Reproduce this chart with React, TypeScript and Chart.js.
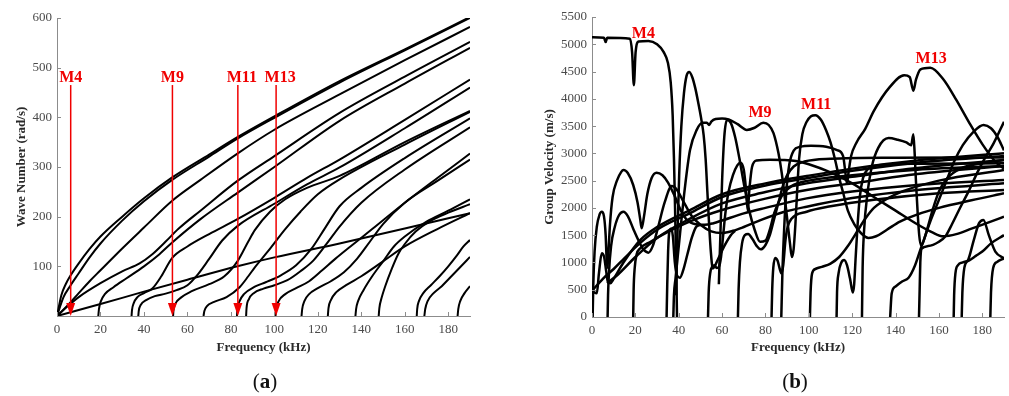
import React, { useEffect, useRef } from "react";
import { Chart, registerables } from "chart.js";
Chart.register(...registerables);

type Pt = [number, number];

// ---------- (a) wave number vs frequency ----------
const wn01: Pt[] = [[0,0],[2,42],[4,64],[6,80],[10,106],[15,135],[20,160],[30,200],[40,237],[53,279],[70,325],[83,360],[100,402],[130,473],[160,537],[190,602]];
const wn02: Pt[] = [[0,0],[3,38],[6,60],[10,86],[15,118],[20,146],[30,192],[40,231],[53,274],[70,321],[83,357],[100,399],[130,470],[160,535],[190,600]];
const wn03: Pt[] = [[0,0],[5,22],[10,46],[15,70],[20,92],[30,136],[40,178],[53,232],[66,274],[83,327],[100,375],[130,446],[160,515],[190,582]];
const wn04: Pt[] = [[0,0],[5,20],[10,38],[20,66],[30,90],[38,106],[44,125],[50,150],[56,176],[66,212],[83,272],[100,322],[130,409],[160,482],[190,552]];
const wn05: Pt[] = [[19,0],[19.3,14],[20.2,30],[22,44],[26,58],[32,76],[40,100],[47,124],[53,148],[66,195],[83,248],[100,300],[130,393],[160,468],[190,540]];
const wn06: Pt[] = [[0,0],[20,24],[40,49],[60,73],[83,100],[100,118],[130,146],[160,176],[190,207]];
const wn07: Pt[] = [[34.3,0],[34.5,12],[35.3,26],[37,38],[40,46],[44,56],[48,80],[53,117],[60,140],[70,165],[83,195],[100,238],[115,278],[130,315],[160,395],[190,476]];
const wn08: Pt[] = [[37.4,0],[37.6,10],[38.5,22],[41,32],[45,40],[50,45],[55,52],[60,62],[65,85],[70,115],[76,152],[83,181],[100,226],[115,265],[130,299],[160,378],[190,460]];
const wn09: Pt[] = [[53.4,0],[53.6,12],[54.5,25],[57,37],[62,50],[70,64],[77,80],[83,110],[88,150],[91,173],[98,210],[105,235],[115,258],[130,282],[160,350],[190,413]];
const wn10: Pt[] = [[67.4,0],[67.8,10],[69,20],[72,28],[78,38],[84,58],[88,80],[91,98],[97,130],[105,175],[112,210],[120,245],[130,275],[160,345],[190,411]];
const wn11: Pt[] = [[82.8,0],[83,14],[84,30],[86,44],[91,59],[96,68],[103,82],[110,102],[117,135],[123,175],[130,221],[140,258],[160,318],[190,398]];
const wn12: Pt[] = [[87,0],[87.2,16],[88.3,34],[90.5,46],[95,55],[100,62],[106,72],[112,90],[118,112],[124,145],[130,180],[140,228],[160,295],[190,380]];
const wn13: Pt[] = [[100.5,0],[100.8,14],[102,30],[105,44],[110,56],[116,70],[122,92],[128,115],[135,140],[145,175],[160,228],[175,278],[190,327]];
const wn14: Pt[] = [[112.5,0],[112.8,14],[113.8,30],[116,44],[120,56],[126,70],[132,88],[138,115],[144,150],[150,185],[160,228],[175,272],[190,315]];
const wn15: Pt[] = [[124.6,0],[124.9,16],[126,32],[128.5,48],[133,62],[140,80],[150,110],[160,140],[175,175],[190,207]];
const wn16: Pt[] = [[137.3,0],[137.6,14],[138.5,30],[141,52],[145,80],[150,110],[155,140],[160,160],[170,190],[180,212],[190,235]];
const wn17: Pt[] = [[148,0],[148.3,16],[149.3,36],[151,60],[154,95],[157,125],[160,145],[165,170],[172,192],[180,208],[190,225]];
const wn18: Pt[] = [[165.5,0],[165.7,14],[166.5,30],[168.5,46],[172,62],[176,80],[180,100],[184,122],[187,140],[190,153]];
const wn19: Pt[] = [[169,0],[169.4,14],[170.5,30],[173,45],[177,60],[181,78],[185,96],[190,119]];
const wn20: Pt[] = [[184.3,0],[184.6,14],[185.5,30],[187.5,46],[190,60]];
const waveNumberCurves = [wn01,wn02,wn03,wn04,wn05,wn06,wn07,wn08,wn09,wn10,wn11,wn12,wn13,wn14,wn15,wn16,wn17,wn18,wn19,wn20];

// ---------- (b) group velocity vs frequency ----------
const gv01: Pt[] = [[0,5130],[5.5,5120],[6.3,5040],[7,5120],[17.5,5100],[18.5,4850],[19.3,4250],[20.1,4850],[21.5,5050],[26,5060],[30,5000],[33,4860],[35,4660],[36.3,4300],[37.2,3700],[37.8,2900],[38.3,2000],[38.7,1200],[39,500],[39.2,0]];
const gv02: Pt[] = [[38.8,400],[39.4,1500],[40.2,2600],[41.2,3500],[42.4,4100],[43.6,4420],[44.8,4490],[46.2,4400],[47.6,4200],[49,3930],[50.3,3650],[51.5,3330],[52.4,2900],[53.2,2300],[54,1700],[54.8,1200],[55.7,890],[58,1050],[61,1300],[64,1500],[66,1580]];
const gv03: Pt[] = [[37.5,0],[37.8,400],[38.5,700],[39.5,1100],[40.6,1530],[42.9,2390],[45.2,3060],[48.3,3430],[51,3560],[53,3560],[54,3520],[55,3580],[57,3630],[60,3640],[63,3620],[67,3540],[71.4,3430],[75,3470],[79,3560],[81.5,3520],[83.7,3370],[86,3000],[87.5,2640],[89,2150],[90.3,1700],[91.3,1350],[92.2,1100],[93,1250],[93.8,1700],[94.6,2300],[95.5,2900],[97,3350],[99,3580],[101,3680],[103,3700],[105.5,3620],[108,3420],[110,3200],[112,2900],[114,2550],[116,2250],[118,1950],[121,1700],[124,1540],[127.5,1450],[131,1480],[136,1600],[142,1750],[150,1880],[160,2000],[175,2140],[190,2267]];
const gv04: Pt[] = [[58.5,600],[59.2,1500],[60,2500],[61,3300],[62.2,3610],[64,3560],[66,3300],[68,2900],[70,2450],[72.5,1950],[75,1600],[77.5,1380],[80,1400],[82,1600],[84,1900],[86,2100],[88,2250],[92,2400],[100,2500],[120,2600],[150,2700],[190,2768]];
const gv05: Pt[] = [[53.5,0],[53.8,450],[54.5,800],[55.5,930],[56.5,950],[57.5,900],[58.5,920],[59.5,1100],[60.5,1500],[61.5,1900],[63,2300],[65,2600],[67,2780],[68.5,2830],[70,2700],[71,2350],[71.8,1950],[72.6,2350],[73.8,2750],[76,2870],[82,2885],[88,2880],[94,2860],[100,2800],[110,2650],[120,2450],[130,2200],[140,1950],[150,1700],[157,1550],[162,1480],[168,1520],[175,1620],[182,1720],[190,1839]];
const gv06: Pt[] = [[87.3,0],[87.8,800],[88.6,1600],[89.6,2300],[91,2800],[93,3050],[96,3120],[101,3140],[108,3120],[113,3060],[115.8,2950],[117,2600],[117.6,2450],[118.3,2650],[119.5,2950],[122,3200],[126,3450],[130,3780],[137,4200],[144,4430],[146.5,4400],[148.2,4150],[149.4,4350],[151.5,4540],[156,4570],[162,4360],[168,3980],[174,3560],[180,3170],[186,2850],[190,2720]];
const gv07: Pt[] = [[124.5,0],[124.8,900],[125.5,1600],[127,2250],[129,2750],[132,3100],[136.8,3280],[141,3250],[145,3200],[147.2,3150],[148.2,3350],[148.8,3000],[149.5,2400],[150.2,1900],[150.9,1500],[151.6,1320],[152.5,1350],[154.5,1600],[157,1950],[160,2300],[164,2550],[170,2720],[180,2820],[190,2878]];
const gv08: Pt[] = [[7.2,0],[7.4,400],[7.8,800],[8.8,1300],[10.5,1650],[12.5,1870],[14.5,1930],[16.5,1850],[19,1620],[21.5,1400],[23.5,1250],[26,1180],[28,1300],[30.5,1650],[33.5,2100],[36.8,2400],[39,2340],[42,2130],[46,1850],[50,1690],[55,1570],[60,1540],[65,1580],[70,1650],[78,1780],[88,1920],[99,2022],[120,2180],[150,2330],[190,2450]];
const gv09: Pt[] = [[0.3,0],[0.6,600],[1.2,1200],[2.2,1650],[3.5,1880],[4.5,1930],[5.5,1850],[6.3,1500],[6.7,1100],[7.1,900],[7.6,1200],[8.3,1700],[9.5,2200],[11.5,2500],[13.5,2660],[14.5,2695],[16.5,2640],[19,2420],[21,2100],[22.2,1800],[22.9,1625],[24,1850],[25.5,2250],[27.5,2550],[29.8,2646],[32.5,2600],[35,2470],[38,2230],[41,1950],[44,1770],[48,1700],[52,1690],[56,1720],[60,1770],[70,1900],[80,2000],[99,2175],[120,2300],[150,2420],[190,2511]];
const gv10: Pt[] = [[0,480],[1,450],[2.2,434],[3.2,800],[4.5,1170],[5.6,1100],[6.5,850],[7.3,650],[8.5,620],[10,700],[14.5,1000],[22.2,1411],[30,1650],[45.2,1961],[60,2250],[80,2450],[99,2584],[120,2720],[150,2870],[190,3000]];
const gv11: Pt[] = [[0,480],[5,700],[10,880],[15,1080],[22,1350],[30,1600],[45,1900],[60,2200],[80,2410],[99,2542],[120,2680],[150,2830],[190,2950]];
const gv12: Pt[] = [[7,620],[12,780],[20,1100],[30,1450],[45,1800],[60,2083],[80,2290],[99,2450],[120,2570],[150,2730],[190,2878]];
const gv13: Pt[] = [[19,0],[19.2,500],[19.7,900],[20.6,1150],[22,1250],[27,1380],[35,1560],[45,1750],[60,1961],[80,2170],[99,2328],[120,2450],[150,2620],[190,2768]];
const gv14: Pt[] = [[34.4,0],[34.7,600],[35.1,1200],[35.6,1550],[36.5,1620],[37.3,1480],[38.2,1000],[39.2,760],[40.5,720],[42,850],[44,1150],[46,1450],[48,1650],[50,1690]];
const gv15: Pt[] = [[67.3,0],[67.6,500],[68.2,1000],[69.2,1350],[70.5,1500],[72,1520],[74,1430],[76,1300],[77.8,1240],[80,1320],[82,1500],[84,1800],[86,2100],[88,2400],[90,2600],[93,2760],[98,2850],[110,2900],[140,2920],[190,2926]];
const gv16: Pt[] = [[82.8,0],[83.1,500],[83.6,900],[84.5,1080],[85.6,1030],[86.6,880],[87.4,800],[88.2,950],[89.2,1400],[90.2,1650],[92,1800],[99,1930],[110,2030],[130,2150],[160,2270],[190,2328]];
const gv17: Pt[] = [[100.5,0],[100.8,450],[101.5,800],[103,880],[106,920],[110,980],[114,1100],[118,1300],[122,1550],[126,1800],[130,2000],[140,2250],[160,2500],[190,2695]];
const gv18: Pt[] = [[112.8,0],[113,450],[113.7,800],[115,1000],[116.3,1045],[117.6,950],[119,700],[120.3,450],[120.9,600],[121.6,1100],[122.5,1700],[123.5,2200],[125,2550],[127,2700],[132,2780],[150,2810],[190,2817]];
const gv19: Pt[] = [[137.5,0],[138.2,430],[140,560],[143,650],[146,720],[149,950],[151.4,1230],[153,1410],[156,1750],[159,2050],[163,2450],[167,2850],[171,3150],[176,3400],[180.6,3520],[184,3460],[187,3300],[190,3055]];
const gv20: Pt[] = [[166.8,0],[167,400],[167.6,800],[168.8,950],[171,1000],[174,1040],[177,1120],[180,1200],[184,1350],[190,1500]];
const gv21: Pt[] = [[150.8,0],[151.1,500],[151.4,1000],[152,1250],[155,1300],[160,1380],[163,1480],[166,1700],[170,2022],[174,2330],[177.5,2633],[181,2900],[185.2,3183],[190,3580]];
const gv22: Pt[] = [[170.5,0],[170.8,450],[171.7,900],[173.5,1050],[176,1400],[178.5,1720],[180.5,1780],[183,1500],[186,1200],[190,1075]];
const gv23: Pt[] = [[183.7,0],[184,450],[185,900],[186.8,1010],[190,1075]];
const groupVelocityCurves = [gv01,gv02,gv03,gv04,gv05,gv06,gv07,gv08,gv09,gv10,gv11,gv12,gv13,gv14,gv15,gv16,gv17,gv18,gv19,gv20,gv21,gv22,gv23];

// ---------- ticks & labels ----------
const frequencyTicks = [0, 20, 40, 60, 80, 100, 120, 140, 160, 180];
const waveNumberTicks = [100, 200, 300, 400, 500, 600];
const groupVelocityTicks = [0, 500, 1000, 1500, 2000, 2500, 3000, 3500, 4000, 4500, 5000, 5500];
const modeLabels = ["M4", "M9", "M11", "M13"];
const modeArrowFreqs = [6.3, 53.1, 83.2, 100.8];
const modeArrowTop = 465;
const modeLabelWaveNumber = 480;
const modeLabelVelFreqs = [23.7, 77.5, 103.4, 156.4];
const modeLabelVelValues = [5200, 3740, 3886, 4724];

const SERIF = "'Liberation Serif', 'Times New Roman', serif";
const RED = "#f00000";

const insideTicks = {
  id: "insideTicks",
  afterDraw(chart: any) {
    const { ctx } = chart;
    const xs = chart.scales.x, ys = chart.scales.y;
    ctx.save();
    ctx.strokeStyle = "#8c8c8c";
    ctx.lineWidth = 1;
    xs.ticks.forEach((t: any) => {
      const p = Math.round(xs.getPixelForValue(t.value)) + 0.5;
      ctx.beginPath(); ctx.moveTo(p, ys.bottom); ctx.lineTo(p, ys.bottom - 4); ctx.stroke();
    });
    ys.ticks.forEach((t: any) => {
      const p = Math.round(ys.getPixelForValue(t.value)) + 0.5;
      ctx.beginPath(); ctx.moveTo(xs.left, p); ctx.lineTo(xs.left + 4, p); ctx.stroke();
    });
    ctx.restore();
  },
};

const arrowsPlugin = {
  id: "modeArrows",
  afterDatasetsDraw(chart: any) {
    const { ctx } = chart;
    const xs = chart.scales.x, ys = chart.scales.y;
    const shift = [0, 0, 4, 4];
    ctx.save();
    modeArrowFreqs.forEach((f, i) => {
      const px = xs.getPixelForValue(f);
      const top = ys.getPixelForValue(modeArrowTop);
      const bot = ys.getPixelForValue(0);
      ctx.strokeStyle = RED; ctx.fillStyle = RED; ctx.lineWidth = 1.5;
      ctx.beginPath(); ctx.moveTo(px, top); ctx.lineTo(px, bot - 10); ctx.stroke();
      ctx.beginPath(); ctx.moveTo(px - 4.5, bot - 13); ctx.lineTo(px + 4.5, bot - 13); ctx.lineTo(px, bot); ctx.closePath(); ctx.fill();
      ctx.font = `bold 16px ${SERIF}`;
      ctx.textAlign = "center"; ctx.textBaseline = "middle";
      ctx.fillText(modeLabels[i], px + shift[i], ys.getPixelForValue(modeLabelWaveNumber));
    });
    ctx.restore();
  },
};

const velLabelsPlugin = {
  id: "velLabels",
  afterDatasetsDraw(chart: any) {
    const { ctx } = chart;
    const xs = chart.scales.x, ys = chart.scales.y;
    ctx.save();
    ctx.fillStyle = RED;
    ctx.font = `bold 16px ${SERIF}`;
    ctx.textAlign = "center"; ctx.textBaseline = "middle";
    modeLabels.forEach((m, i) => {
      ctx.fillText(m, xs.getPixelForValue(modeLabelVelFreqs[i]), ys.getPixelForValue(modeLabelVelValues[i]));
    });
    ctx.restore();
  },
};

function makeConfig(curves: Pt[][], yMax: number, yTicks: number[], yTitle: string, yTitlePad: number, yWidth: number, padRight: number, padTop: number, xHeight: number, lineW: number, plugin: any) {
  return {
    type: "scatter" as const,
    data: {
      datasets: curves.map((c) => ({
        data: c.map(([x, y]) => ({ x, y })),
        showLine: true,
        borderColor: "#000",
        borderWidth: lineW,
        pointRadius: 0,
        cubicInterpolationMode: "monotone" as const,
        fill: false,
      })),
    },
    options: {
      responsive: false,
      animation: false as const,
      devicePixelRatio: 1,
      layout: { padding: { left: 0, right: padRight, top: padTop, bottom: 0 } },
      plugins: { legend: { display: false }, tooltip: { enabled: false } },
      scales: {
        x: {
          type: "linear" as const,
          min: 0,
          max: 190,
          afterBuildTicks: (s: any) => { s.ticks = frequencyTicks.map((value) => ({ value })); },
          afterFit: (s: any) => { s.height = xHeight; },
          ticks: { padding: 6, color: "#4a4a4a", font: { family: SERIF, size: 13 }, maxRotation: 0, autoSkip: false, callback: (v: any) => String(v) },
          grid: { display: true, drawOnChartArea: false, drawTicks: false },
          border: { display: true, color: "#8c8c8c", width: 1 },
          title: { display: true, text: "Frequency (kHz)", color: "#2a2a2a", font: { family: SERIF, size: 13, weight: "bold" as const }, padding: { top: 0, bottom: 41 } },
        },
        y: {
          type: "linear" as const,
          min: 0,
          max: yMax,
          afterBuildTicks: (s: any) => { s.ticks = yTicks.map((value) => ({ value })); },
          afterFit: (s: any) => { s.width = yWidth; },
          ticks: { padding: 5, color: "#4a4a4a", font: { family: SERIF, size: 13 }, autoSkip: false, callback: (v: any) => String(v) },
          grid: { display: true, drawOnChartArea: false, drawTicks: false },
          border: { display: true, color: "#8c8c8c", width: 1 },
          title: { display: true, text: yTitle, color: "#2a2a2a", font: { family: SERIF, size: 13, weight: "bold" as const }, padding: { top: yTitlePad, bottom: 0 } },
        },
      },
    },
    plugins: [insideTicks, plugin],
  };
}

export default function App() {
  const leftRef = useRef<HTMLCanvasElement>(null);
  const rightRef = useRef<HTMLCanvasElement>(null);

  useEffect(() => {
    const a = new Chart(leftRef.current as HTMLCanvasElement, makeConfig(waveNumberCurves, 600, waveNumberTicks, "Wave Number (rad/s)", 14, 57, 35, 18, 80, 2, arrowsPlugin) as any);
    const b = new Chart(rightRef.current as HTMLCanvasElement, makeConfig(groupVelocityCurves, 5500, groupVelocityTicks, "Group Velocity (m/s)", 37, 87, 5, 17, 79, 2.5, velLabelsPlugin) as any);
    return () => { a.destroy(); b.destroy(); };
  }, []);

  const capStyle: React.CSSProperties = {
    position: "absolute", top: 368, width: 80, textAlign: "center",
    fontFamily: SERIF, fontSize: 21, color: "#111", lineHeight: "26px",
  };

  return (
    <div style={{ position: "absolute", left: 0, top: 0, width: 1009, height: 396, background: "#fff", overflow: "hidden" }}>
      <canvas ref={leftRef} width={505} height={396} style={{ position: "absolute", left: 0, top: 0 }} />
      <canvas ref={rightRef} width={504} height={396} style={{ position: "absolute", left: 505, top: 0 }} />
      <div style={{ ...capStyle, left: 225 }}>(<b>a</b>)</div>
      <div style={{ ...capStyle, left: 755 }}>(<b>b</b>)</div>
    </div>
  );
}
